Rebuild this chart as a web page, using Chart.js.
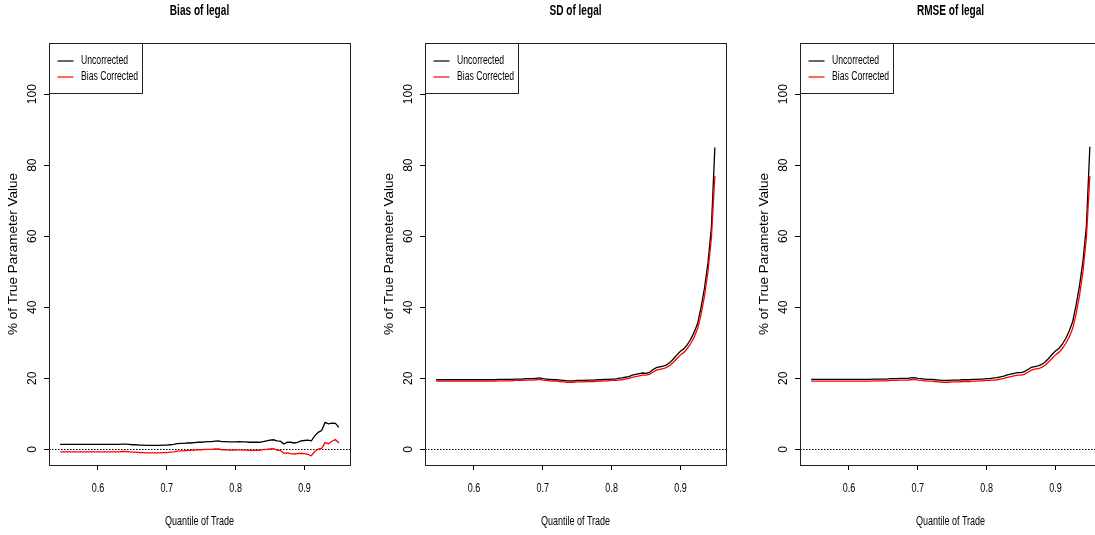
<!DOCTYPE html>
<html>
<head>
<meta charset="utf-8">
<script src="https://cdn.jsdelivr.net/npm/chart.js@4.4.1/dist/chart.umd.min.js"></script>
<style>
  html, body { margin: 0; padding: 0; background: #fff; }
  body { width: 1095px; height: 535px; overflow: hidden; position: relative; }
  canvas { position: absolute; top: 0; }
</style>
</head>
<body>
<canvas id="bias" width="376" height="535" style="left:0px"></canvas>
<canvas id="sd" width="376" height="535" style="left:376px"></canvas>
<canvas id="rmse" width="376" height="535" style="left:751px"></canvas>
<script>
// quantile of trade (x values)
const quantiles = [
  0.545, 0.550, 0.555, 0.560, 0.565, 0.570, 0.575, 0.580, 0.585, 0.590,
  0.595, 0.600, 0.605, 0.610, 0.615, 0.620, 0.625, 0.630, 0.635, 0.640,
  0.645, 0.650, 0.655, 0.660, 0.665, 0.670, 0.675, 0.680, 0.685, 0.690,
  0.695, 0.700, 0.705, 0.710, 0.715, 0.720, 0.725, 0.730, 0.735, 0.740,
  0.745, 0.750, 0.755, 0.760, 0.765, 0.770, 0.775, 0.780, 0.785, 0.790,
  0.795, 0.800, 0.805, 0.810, 0.815, 0.820, 0.825, 0.830, 0.835, 0.840,
  0.845, 0.850, 0.855, 0.860, 0.865, 0.870, 0.875, 0.880, 0.885, 0.890,
  0.895, 0.900, 0.905, 0.910, 0.915, 0.920, 0.925, 0.930, 0.935, 0.940,
  0.945, 0.950
];

const biasUncorrected = [
  1.4, 1.4, 1.4, 1.4, 1.4, 1.4, 1.4, 1.4, 1.4, 1.4,
  1.4, 1.4, 1.4, 1.4, 1.4, 1.4, 1.4, 1.4, 1.5, 1.5,
  1.4, 1.3, 1.3, 1.2, 1.2, 1.1, 1.1, 1.1, 1.1, 1.1,
  1.2, 1.2, 1.3, 1.4, 1.6, 1.7, 1.7, 1.8, 1.8, 1.9,
  2.0, 2.0, 2.1, 2.2, 2.2, 2.3, 2.4, 2.2, 2.2, 2.1,
  2.1, 2.1, 2.2, 2.1, 2.1, 2.0, 2.0, 2.0, 2.0, 2.2,
  2.4, 2.6, 2.7, 2.4, 2.3, 1.5, 2.0, 2.0, 1.8, 2.0,
  2.4, 2.5, 2.6, 2.4, 3.8, 4.8, 5.3, 7.6, 7.2, 7.4,
  7.3, 6.2
];
const biasCorrected = [
  -0.7, -0.7, -0.7, -0.7, -0.7, -0.7, -0.7, -0.7, -0.7, -0.7,
  -0.7, -0.7, -0.7, -0.7, -0.7, -0.7, -0.7, -0.7, -0.6, -0.6,
  -0.7, -0.8, -0.8, -0.9, -0.9, -1.0, -1.0, -1.0, -1.0, -1.0,
  -0.9, -0.9, -0.8, -0.7, -0.5, -0.4, -0.4, -0.3, -0.3, -0.2,
  -0.1, -0.1, 0.0, 0.0, 0.0, 0.1, 0.1, -0.1, -0.1, -0.2,
  -0.2, -0.2, -0.1, -0.2, -0.2, -0.3, -0.3, -0.3, -0.3, -0.1,
  0.0, 0.1, 0.2, -0.2, -0.3, -1.1, -1.0, -1.2, -1.3, -1.2,
  -1.1, -1.2, -1.4, -1.8, -0.6, 0.1, 0.3, 1.9, 1.6, 2.3,
  2.8, 1.8
];

const sdUncorrected = [
  19.6, 19.6, 19.6, 19.6, 19.6, 19.6, 19.6, 19.6, 19.6, 19.6,
  19.6, 19.6, 19.6, 19.6, 19.6, 19.6, 19.6, 19.6, 19.7, 19.7,
  19.7, 19.7, 19.7, 19.8, 19.8, 19.8, 19.9, 19.9, 19.9, 20.0,
  20.1, 19.9, 19.8, 19.7, 19.6, 19.6, 19.5, 19.4, 19.3, 19.3,
  19.3, 19.4, 19.4, 19.4, 19.5, 19.5, 19.5, 19.6, 19.6, 19.7,
  19.7, 19.8, 19.8, 20.0, 20.1, 20.3, 20.5, 20.9, 21.1, 21.3,
  21.5, 21.4, 21.7, 22.4, 23.0, 23.2, 23.4, 23.8, 24.5, 25.5,
  26.6, 27.6, 28.3, 29.5, 31.0, 33.0, 35.5, 40.0, 45.5, 52.5,
  62.5, 85.0
];
const sdCorrected = [
  19.2, 19.2, 19.2, 19.2, 19.2, 19.2, 19.2, 19.2, 19.2, 19.2,
  19.2, 19.2, 19.2, 19.2, 19.2, 19.2, 19.2, 19.2, 19.3, 19.3,
  19.3, 19.3, 19.3, 19.4, 19.4, 19.4, 19.5, 19.5, 19.5, 19.6,
  19.7, 19.5, 19.4, 19.3, 19.2, 19.2, 19.1, 19.0, 18.9, 18.9,
  18.9, 19.0, 19.0, 19.0, 19.1, 19.1, 19.1, 19.2, 19.2, 19.3,
  19.3, 19.4, 19.4, 19.5, 19.6, 19.8, 20.0, 20.3, 20.5, 20.7,
  20.9, 20.9, 21.1, 21.7, 22.3, 22.5, 22.7, 23.1, 23.7, 24.6,
  25.6, 26.6, 27.3, 28.4, 29.8, 31.6, 34.0, 38.0, 43.2, 50.0,
  59.5, 77.0
];

const rmseUncorrected = [
  19.7, 19.7, 19.7, 19.7, 19.7, 19.7, 19.7, 19.7, 19.7, 19.7,
  19.7, 19.7, 19.7, 19.7, 19.7, 19.7, 19.7, 19.7, 19.8, 19.8,
  19.8, 19.8, 19.8, 19.9, 19.9, 19.9, 20.0, 20.0, 20.0, 20.1,
  20.2, 20.0, 19.9, 19.8, 19.7, 19.7, 19.6, 19.5, 19.4, 19.4,
  19.4, 19.5, 19.5, 19.5, 19.6, 19.6, 19.6, 19.7, 19.7, 19.8,
  19.8, 19.9, 19.9, 20.1, 20.2, 20.4, 20.6, 21.0, 21.2, 21.4,
  21.6, 21.6, 21.9, 22.5, 23.1, 23.3, 23.5, 23.9, 24.6, 25.6,
  26.7, 27.7, 28.4, 29.6, 31.2, 33.3, 35.9, 40.6, 46.1, 53.0,
  62.9, 85.2
];
const rmseCorrected = [
  19.2, 19.2, 19.2, 19.2, 19.2, 19.2, 19.2, 19.2, 19.2, 19.2,
  19.2, 19.2, 19.2, 19.2, 19.2, 19.2, 19.2, 19.2, 19.3, 19.3,
  19.3, 19.3, 19.3, 19.4, 19.4, 19.4, 19.5, 19.5, 19.5, 19.6,
  19.7, 19.5, 19.4, 19.3, 19.2, 19.2, 19.1, 19.0, 18.9, 18.9,
  18.9, 19.0, 19.0, 19.0, 19.1, 19.1, 19.1, 19.2, 19.2, 19.3,
  19.3, 19.4, 19.4, 19.5, 19.6, 19.8, 20.0, 20.3, 20.5, 20.7,
  20.9, 20.9, 21.1, 21.7, 22.3, 22.6, 22.7, 23.1, 23.7, 24.6,
  25.6, 26.6, 27.3, 28.4, 29.8, 31.6, 34.0, 38.1, 43.3, 50.1,
  59.6, 77.0
];

// axis ticks
const xTicks = [0.6, 0.7, 0.8, 0.9];
const yTicks = [0, 20, 40, 60, 80, 100];

const REGULAR = "'Liberation Sans', Arial, sans-serif";
// horizontal text in the original is a squeezed Helvetica
const SQUEEZE = 0.72;

function squeezedText(ctx, text, x, y, font, align) {
  ctx.save();
  ctx.translate(x, y);
  ctx.scale(SQUEEZE, 1);
  ctx.font = font;
  ctx.textAlign = align || 'center';
  ctx.textBaseline = 'middle';
  ctx.fillStyle = '#000';
  ctx.fillText(text, 0, 0);
  ctx.restore();
}

// R-style box, dotted zero line, inset legend and squeezed horizontal text
const rStyle = {
  id: 'rStyle',
  beforeDatasetsDraw(chart) {
    const ctx = chart.ctx;
    const area = chart.chartArea;
    const y0 = Math.round(chart.scales.y.getPixelForValue(0)) + 0.5;
    ctx.save();
    ctx.strokeStyle = '#000';
    ctx.lineWidth = 1.2;
    ctx.setLineDash([1.5, 1.5]);
    ctx.beginPath();
    ctx.moveTo(area.left, y0);
    ctx.lineTo(area.right, y0);
    ctx.stroke();
    ctx.restore();
  },
  afterDraw(chart, args, opts) {
    const ctx = chart.ctx;
    const area = chart.chartArea;
    const xScale = chart.scales.x;
    ctx.save();
    ctx.strokeStyle = '#222';
    ctx.lineWidth = 1;
    ctx.strokeRect(Math.round(area.left) + 0.5, Math.round(area.top) + 0.5,
      Math.round(area.right - area.left), Math.round(area.bottom - area.top));

    // title
    const cx = (area.left + area.right) / 2;
    squeezedText(ctx, opts.title, cx, 11, 'bold 14px ' + REGULAR);

    // x tick labels and axis title
    xScale.ticks.forEach(function(t) {
      squeezedText(ctx, t.value.toFixed(1), xScale.getPixelForValue(t.value), 489, '12.5px ' + REGULAR);
    });
    squeezedText(ctx, opts.xTitle, cx, 522, '12.5px ' + REGULAR);

    // legend
    const lx = Math.round(area.left) + 0.5;
    const ly = Math.round(area.top) + 0.5;
    ctx.fillStyle = '#fff';
    ctx.fillRect(lx, ly, 93, 50);
    ctx.strokeRect(lx, ly, 93, 50);
    chart.data.datasets.forEach(function(ds, i) {
      const yy = ly + 17.5 + i * 16;
      ctx.strokeStyle = ds.borderColor;
      ctx.lineWidth = 1.2;
      ctx.beginPath();
      ctx.moveTo(lx + 8, yy);
      ctx.lineTo(lx + 24, yy);
      ctx.stroke();
      squeezedText(ctx, ds.label, lx + 31.5, yy, '12px ' + REGULAR, 'left');
    });
    ctx.restore();
  }
};

function toPoints(values) {
  return quantiles.map(function(q, i) {
    return { x: q, y: values[i] };
  });
}

function makePanel(id, titleText, uncorrected, corrected) {
  const ctx = document.getElementById(id).getContext('2d');
  return new Chart(ctx, {
    type: 'line',
    data: {
      datasets: [{
        label: 'Uncorrected',
        data: toPoints(uncorrected),
        borderColor: '#000000',
        borderWidth: 1.3,
        pointRadius: 0,
        fill: false,
        order: 2
      }, {
        label: 'Bias Corrected',
        data: toPoints(corrected),
        borderColor: '#ff0000',
        borderWidth: 1.3,
        pointRadius: 0,
        fill: false,
        order: 1
      }]
    },
    options: {
      responsive: false,
      animation: false,
      devicePixelRatio: 1,
      layout: { padding: { left: 0, right: 26, top: 43, bottom: 0 } },
      plugins: {
        legend: { display: false },
        tooltip: { enabled: false },
        title: { display: false },
        rStyle: { title: titleText, xTitle: 'Quantile of Trade' }
      },
      scales: {
        x: {
          type: 'linear',
          min: 0.5288,
          max: 0.9662,
          afterBuildTicks: function(scale) {
            scale.ticks = xTicks.map(function(v) { return { value: v }; });
          },
          afterFit: function(scale) { scale.height = 70; },
          grid: { drawOnChartArea: false, drawTicks: true, tickLength: 5, color: '#000', lineWidth: 1 },
          border: { display: false },
          ticks: { display: false, autoSkip: false }
        },
        y: {
          type: 'linear',
          min: -4.4,
          max: 114.4,
          afterBuildTicks: function(scale) {
            scale.ticks = yTicks.map(function(v) { return { value: v }; });
          },
          afterFit: function(scale) { scale.width = 49; },
          grid: { drawOnChartArea: false, drawTicks: true, tickLength: 5, color: '#000', lineWidth: 1 },
          border: { display: false },
          ticks: {
            color: '#000',
            font: { family: REGULAR, size: 12 },
            minRotation: 90,
            maxRotation: 90,
            crossAlign: 'center',
            padding: 1,
            autoSkip: false,
            callback: function(v) { return String(v); }
          },
          title: {
            display: true,
            text: '% of True Parameter Value',
            color: '#000',
            font: { family: REGULAR, size: 13.5 },
            padding: { top: 5.5, bottom: 0 }
          }
        }
      }
    },
    plugins: [rStyle]
  });
}

makePanel('bias', 'Bias of legal', biasUncorrected, biasCorrected);
makePanel('sd', 'SD of legal', sdUncorrected, sdCorrected);
makePanel('rmse', 'RMSE of legal', rmseUncorrected, rmseCorrected);
</script>
</body>
</html>
